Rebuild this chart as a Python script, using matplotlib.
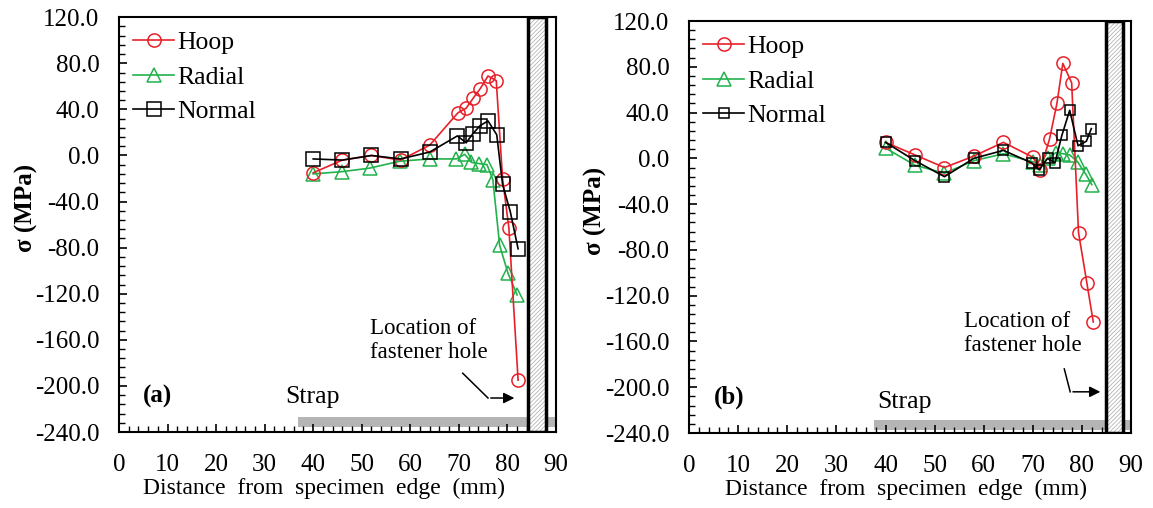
import matplotlib
matplotlib.use("Agg")
import matplotlib.pyplot as plt
from matplotlib.patches import Rectangle
from matplotlib.ticker import MultipleLocator, FormatStrFormatter

plt.rcParams["font.family"] = ["Liberation Serif", "DejaVu Serif"]
plt.rcParams["hatch.linewidth"] = 0.5

# panel (a)
a_hoop_x = [40, 46, 52, 58, 64, 69.8, 71.5, 73, 74.4, 76, 77.7, 79, 80.3, 82.2]
a_hoop_y = [-15, -4, 0, -4, 9, 37, 41, 50, 58, 69, 65, -20, -63, -195]
a_radial_x = [40, 46, 51.6, 57.8, 64, 69.5, 71.2, 72.6, 74.1, 75.8, 77, 78.4, 80.1, 82]
a_radial_y = [-16, -14, -11, -5, -3, -3, 1, -6, -7, -8, -21, -78, -102, -121]
a_normal_x = [40, 46, 52, 58, 64, 69.7, 71.5, 72.9, 74.4, 76, 77.8, 79, 80.6, 82.2]
a_normal_y = [-3, -4, 0, -3, 3, 17, 11, 19, 26, 30, 18, -25, -49, -81]

# panel (b)
b_hoop_x = [40, 46, 52, 58, 64, 70, 71.5, 73.4, 74.9, 76.1, 77.9, 79.3, 81, 82.3]
b_hoop_y = [14, 3, -8, 2, 14, 1, -10, 17, 48, 83, 66, -65, -109, -143]
b_radial_x = [40, 46, 52, 58, 64, 70, 71.5, 73, 74.7, 76.2, 77.5, 79.1, 80.8, 82]
b_radial_y = [9, -6, -13, -2, 4, -3, -6, 0, 5, 4, 3, -3, -14, -23]
b_normal_x = [40, 46, 52, 58, 64, 69.8, 71.3, 73, 74.5, 75.9, 77.5, 79.2, 80.9, 81.9]
b_normal_y = [14, -2, -16, 0, 7, -4, -10, 0, -4, 20, 42, 11, 15, 26]

RED = "#e8202a"
GREEN = "#22b14c"

fig = plt.figure(figsize=(11.53, 5.08), dpi=100)
ax_a = fig.add_axes([0.1032, 0.1496, 0.379, 0.8165])
ax_b = fig.add_axes([0.5976, 0.1476, 0.3834, 0.8110])


def draw_panel(ax, hx, hy, rx, ry, nx, ny, sq_size, label, strap, hole, text_xy, arrow, strap_txt, xlab_x):
    ax.plot(hx, hy, color=RED, lw=1.2, marker="o", ms=9.5, mfc="none", mec=RED, mew=1.1, label="Hoop", zorder=4)
    ax.plot(rx, ry, color=GREEN, lw=1.2, marker="^", ms=9.5, mfc="none", mec=GREEN, mew=1.1, label="Radial", zorder=3)
    ax.plot(nx, ny, color="black", lw=1.2, marker="s", ms=sq_size, mfc="none", mec="black", mew=1.1, label="Normal", zorder=5)

    ax.set_xlim(0, 90)
    ax.set_ylim(-240, 120)
    ax.xaxis.set_major_locator(MultipleLocator(10))
    ax.xaxis.set_minor_locator(MultipleLocator(2))
    ax.yaxis.set_major_locator(MultipleLocator(40))
    ax.yaxis.set_minor_locator(MultipleLocator(8))
    ax.yaxis.set_major_formatter(FormatStrFormatter("%.1f"))
    ax.tick_params(which="both", direction="in", top=False, right=False, labelsize=18)
    ax.tick_params(which="major", length=6, width=1.2)
    ax.tick_params(which="minor", length=4, width=1.0)
    ax.tick_params(axis="y", which="major", pad=14)
    ax.tick_params(axis="x", which="major", pad=16)
    for s in ax.spines.values():
        s.set_linewidth(1.5)

    ax.set_xlabel("Distance  from  specimen  edge  (mm)", fontsize=17)
    ax.xaxis.set_label_coords(xlab_x, -0.11)
    ax.set_ylabel("σ (MPa)", fontsize=18, fontweight="bold")
    ax.yaxis.set_label_coords(-0.185, 0.54)

    # strap bar and fastener hole
    ax.add_patch(Rectangle((strap[0], strap[1]), 90 - strap[0], strap[2] - strap[1],
                           facecolor="#b5b5b5", edgecolor="none", zorder=1))
    ax.add_patch(Rectangle((hole[0], -240), hole[1] - hole[0], 360, facecolor="white",
                           edgecolor="#a8a8a8", hatch="////////", lw=0, zorder=6))
    ax.add_patch(Rectangle((hole[0], -240), hole[1] - hole[0], 360, facecolor="none",
                           edgecolor="black", lw=2.5, zorder=7))

    ax.text(text_xy[0], text_xy[1], "Location of\nfastener hole", fontsize=16.5, va="top",
            ha="left", linespacing=1.2, zorder=8)
    ax.plot(arrow[0][:2], arrow[1][:2], color="black", lw=1.1, zorder=8)
    ax.annotate("", xy=(arrow[0][2], arrow[1][2]), xytext=(arrow[0][1], arrow[1][1]),
                arrowprops=dict(arrowstyle="-|>", color="black", lw=1.1, mutation_scale=16), zorder=8)
    ax.text(strap_txt[0], strap_txt[1], "Strap", fontsize=18.5, va="center", ha="left")
    ax.text(5, -209, label, fontsize=18, fontweight="bold", va="center", ha="left")

    leg = ax.legend(loc="upper left", frameon=False, fontsize=18.5, handlelength=1.6,
                    handletextpad=0.1, labelspacing=0.45, borderaxespad=0.15)
    return leg


draw_panel(ax_a, a_hoop_x, a_hoop_y, a_radial_x, a_radial_y, a_normal_x, a_normal_y, 9.5,
           "(a)", (36.9, -235.5, -227), (84.2, 88.0), (51.6, -141),
           ([70.8, 76, 82], [-189, -210.5, -210.5]), (34.3, -210), 0.47)
draw_panel(ax_b, b_hoop_x, b_hoop_y, b_radial_x, b_radial_y, b_normal_x, b_normal_y, 6.5,
           "(b)", (37.7, -237.5, -229), (84.9, 88.4), (56, -133),
           ([76.4, 77.6, 84.3], [-184, -204, -204]), (38.3, -213), 0.49)

fig.savefig("out.png", dpi=100)
